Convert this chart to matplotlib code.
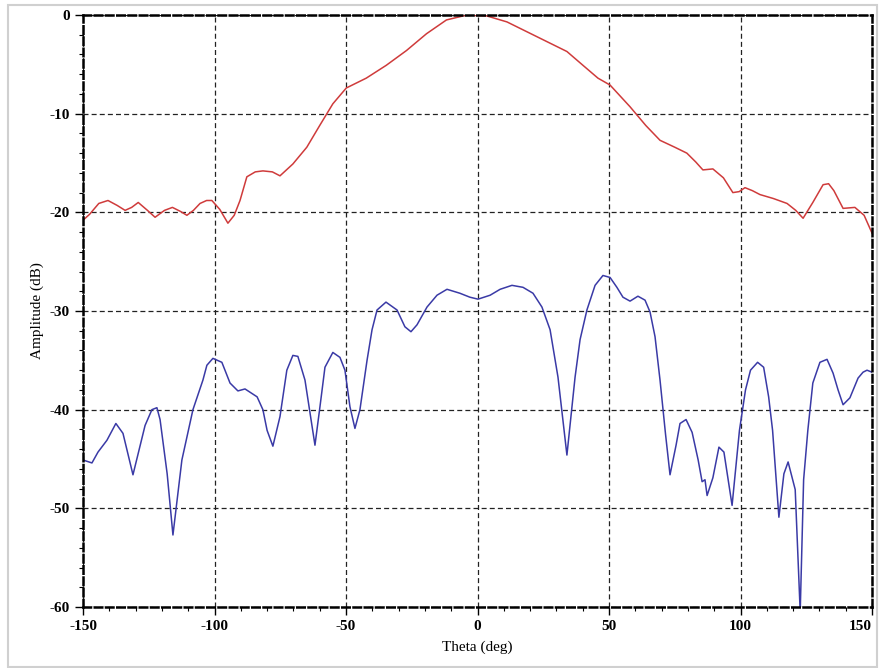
import matplotlib

matplotlib.use("Agg")
import matplotlib.pyplot as plt
from matplotlib.patches import Rectangle
from matplotlib.ticker import MultipleLocator

# co-polar (red) pattern
co_theta = [-150, -147.5, -144, -140.5, -137, -134, -131.5, -129, -125.5, -122.6, -119, -116,
            -113, -110.5, -108, -105.5, -103, -101, -98, -94.9, -92.5, -90.3, -87.7, -84.5,
            -81.6, -78, -75.1, -70.2, -64.9, -60, -55, -49.9, -42.3, -34.7, -27, -19.4, -11.8,
            -4, 3.6, 11.2, 18.8, 26.4, 34, 40.1, 45.8, 50.4, 58, 64, 69.4, 75, 79.6, 83,
            85.7, 89.5, 93.5, 97.1, 99.5, 101.7, 104.5, 107.4, 112.5, 117.7, 121, 123.8,
            127.5, 131.4, 133.5, 135.5, 139, 143.5, 147, 150]
co_db = [-20.8, -20.2, -19.1, -18.8, -19.3, -19.8, -19.5, -19.0, -19.8, -20.5, -19.8, -19.5,
         -19.9, -20.3, -19.8, -19.1, -18.8, -18.8, -19.7, -21.1, -20.3, -18.8, -16.4, -15.9,
         -15.8, -15.9, -16.3, -15.1, -13.4, -11.2, -9.0, -7.4, -6.4, -5.1, -3.6, -1.9, -0.5,
         0.0, -0.1, -0.7, -1.7, -2.7, -3.7, -5.1, -6.4, -7.1, -9.3, -11.2, -12.7, -13.4, -14.0,
         -14.9, -15.7, -15.6, -16.5, -18.0, -17.9, -17.5, -17.8, -18.2, -18.6, -19.1, -19.8,
         -20.6, -19.0, -17.2, -17.1, -17.8, -19.6, -19.5, -20.3, -22.1]

# cross-polar (blue) pattern
x_theta = [-150, -146.6, -144.3, -140.9, -137.5, -134.8, -131, -126.4, -123.8, -121.9, -120.7,
           -118, -115.8, -112.4, -108.2, -104.4, -102.9, -100.6, -97.2, -94.1, -91.1, -88.4,
           -83.8, -81.6, -80, -77.8, -75.1, -72.5, -70.2, -68.3, -65.6, -63.7, -61.8, -59.9,
           -58, -55, -52.3, -50.4, -48.5, -46.6, -44.7, -42, -40.1, -38.2, -34.8, -30.6,
           -27.6, -25.3, -23, -19.2, -15.4, -11.6, -6.7, -2.9, 0.2, 4.8, 8.6, 13.1, 17.3,
           21.1, 24.5, 27.6, 30.6, 34, 37.1, 39, 41.6, 44.7, 47.7, 50.4, 53, 55.3, 58, 61,
           63.7, 65.6, 67.5, 69.4, 71.5, 73.2, 75.5, 77, 79.3, 81.6, 83.9, 85.4, 86.5, 87.3,
           89.5, 91.8, 93.7, 96.8, 99.6, 101.9, 103.8, 106.5, 108.8, 110.7, 112.2, 114.6,
           116.5, 118.1, 120.8, 122.7, 124, 125.6, 127.5, 130.2, 132.9, 135.2, 137.1, 139,
           141.6, 144.7, 146.6, 148.1, 150]
x_db = [-45.1, -45.4, -44.3, -43.1, -41.4, -42.4, -46.6, -41.6, -40.0, -39.8, -41.0,
        -46.5, -52.7, -45.1, -40.0, -37.0, -35.5, -34.8, -35.2, -37.3, -38.1, -37.9,
        -38.7, -40.0, -42.1, -43.7, -40.7, -36.0, -34.5, -34.6, -37.0, -40.3, -43.6, -39.7,
        -35.7, -34.2, -34.7, -36.0, -39.7, -41.9, -40.0, -35.0, -31.9, -29.9, -29.1, -29.9,
        -31.6, -32.1, -31.4, -29.6, -28.4, -27.8, -28.2, -28.6, -28.8, -28.4, -27.8, -27.4, -27.6,
        -28.2, -29.6, -31.9, -36.7, -44.6, -36.7, -32.9, -29.9, -27.4, -26.4, -26.6, -27.6,
        -28.6, -29.0, -28.5, -28.9, -30.1, -32.6, -37.0, -42.5, -46.6, -43.6, -41.4, -41.0,
        -42.3, -45.1, -47.3, -47.1, -48.7, -46.9, -43.8, -44.3, -49.7, -42.1, -38.0, -36.0,
        -35.2, -35.7, -38.7, -42.1, -50.9, -46.5, -45.3, -48.1, -60.5, -47.1, -42.1, -37.3,
        -35.2, -34.9, -36.3, -38.0, -39.5, -38.8, -36.8, -36.2, -36.0, -36.2]

x_ticks = [-150, -100, -50, 0, 50, 100, 150]
y_ticks = [0, -10, -20, -30, -40, -50, -60]

plt.rcParams["font.family"] = ["Liberation Serif", "DejaVu Serif"]
plt.rcParams["axes.unicode_minus"] = False

fig = plt.figure(figsize=(8.8, 6.68), dpi=100)
ax = fig.add_axes([83 / 880, 1 - 607 / 668, 789 / 880, 592 / 668])

# light frame around the whole picture
fig.add_artist(Rectangle((8 / 880, 1 / 668), 869 / 880, 662 / 668, transform=fig.transFigure,
                         fill=False, edgecolor="#d0d0d0", linewidth=1.5))

ax.plot(co_theta, co_db, color="#cf3b3b", linewidth=1.1)
ax.plot(x_theta, x_db, color="#3a3aa6", linewidth=1.1)

ax.set_xlim(-150, 150)
ax.set_ylim(-60, 0)
ax.set_xticks(x_ticks, [str(t) for t in x_ticks])
ax.set_yticks(y_ticks, [str(t) for t in y_ticks])
ax.xaxis.set_minor_locator(MultipleLocator(10))
ax.yaxis.set_minor_locator(MultipleLocator(2))
ax.tick_params(which="major", direction="out", length=6, width=1, labelsize=11)
ax.tick_params(which="minor", direction="out", length=3, width=0.8)
for lbl in ax.get_xticklabels() + ax.get_yticklabels():
    lbl.set_fontweight("bold")
# the last x label sits at the picture's right edge; keep it inside
ax.xaxis.get_major_ticks()[-1].label1.set_horizontalalignment("right")

ax.grid(True, which="major", color="#222222", linestyle=(0, (4, 2.5)), linewidth=0.9)
for side in ("left", "right", "top", "bottom"):
    ax.spines[side].set_linestyle((0, (3, 1.5)))
    ax.spines[side].set_linewidth(1.8)
    ax.spines[side].set_color("black")

ax.set_xlabel("Theta (deg)", fontsize=11, labelpad=5)
ax.set_ylabel("Amplitude (dB)", fontsize=11, labelpad=4)

fig.savefig("out.png", dpi=100)
